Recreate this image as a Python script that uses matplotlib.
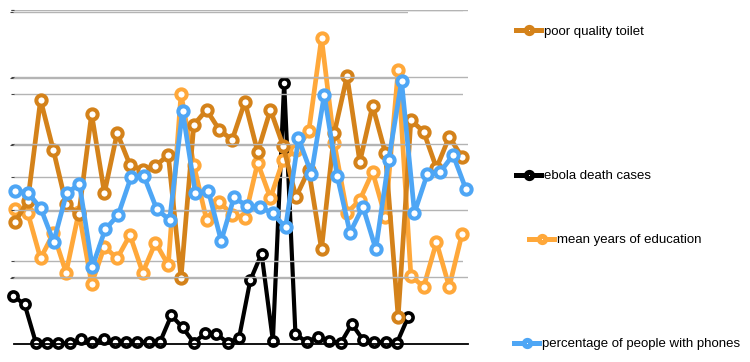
# Indicadores por região x mortes por ebola (4 eixos sobrepostos, estilo Excel)

import matplotlib.pyplot as plt
from matplotlib.lines import Line2D

plt.rcParams['font.family'] = ['Liberation Sans', 'DejaVu Sans']

# Dados (36 regiões)
toilet = [36.5, 42.8, 73.1, 58.1, 41.9, 38.9, 68.9, 45.2, 63.2, 53.6, 52.1, 53.3,
          56.6, 19.8, 65.6, 70.1, 64.1, 61.1, 72.5, 57.5, 70.1, 59.3, 44.0, 52.1,
          28.4, 63.2, 80.2, 54.5, 71.3, 57.2, 8.1, 67.1, 63.5, 52.7, 62.0, 56.0]
ebola = [72, 60, 2, 2, 1, 1, 7, 3, 7, 3, 3, 3,
         3, 3, 43, 25, 2, 16, 15, 2, 9, 96, 136, 5,
         393, 15, 3, 11, 5, 1, 30, 6, 3, 3, 2, 41]
education = [3.23, 3.14, 2.05, 2.65, 1.71, 3.16, 1.44, 2.33, 2.05, 2.61, 1.71, 2.43,
             1.89, 5.99, 4.29, 2.97, 3.41, 3.09, 3.02, 4.34, 3.50, 4.41, 4.65, 5.09,
             7.33, 4.81, 3.14, 3.45, 4.12, 3.04, 6.56, 1.63, 1.37, 2.44, 1.37, 2.63]
phones = [45.9, 45.3, 40.6, 30.6, 45.1, 47.9, 23.1, 34.3, 38.6, 49.9, 50.3, 40.4,
          37.1, 69.9, 45.1, 45.9, 30.9, 43.9, 41.3, 41.1, 39.1, 34.9, 61.6, 51.0,
          74.6, 50.4, 33.3, 41.1, 28.4, 55.1, 78.7, 39.3, 50.9, 51.5, 56.6, 46.3]

C_TOILET = '#d4821a'
C_EBOLA = '#000000'
C_EDU = '#ffa83a'
C_PHONE = '#4ea6f5'
GRID = '#b4b4b4'

W, H = 750, 362
fig = plt.figure(figsize=(W / 100, H / 100), dpi=100)


def make_ax(x0, x1, y0, y1, p0, p1, ymax, ticks, z):
    # caixa em pixels (y a partir do topo); p0/p1 = posição do 1º e último ponto
    ax = fig.add_axes([x0 / W, 1 - y1 / H, (x1 - x0) / W, (y1 - y0) / H], zorder=z)
    ax.patch.set_alpha(0)
    for s in ax.spines.values():
        s.set_visible(False)
    n = len(phones) - 1
    step = (p1 - p0) / n
    ax.set_xlim((x0 - p0) / step, n + (x1 - p1) / step)
    ax.set_ylim(0, ymax)
    ax.set_xticks([])
    ax.set_yticks(ticks)
    ax.set_yticklabels([])
    ax.tick_params(axis='y', length=2.5, width=0.8, color='#444444')
    if ticks:
        ax.grid(axis='y', color=GRID, lw=1.0)
    ax.set_axisbelow(True)
    return ax


x = list(range(len(phones)))
style = dict(lw=3.4, marker='o', ms=7.4, mew=2.9, mfc='white', clip_on=False)

# eixo das mortes por ebola (mais curto)
ax_eb = make_ax(13, 408, 12, 344, 13.3, 408.3, 500, [100, 200, 300, 400, 500], 1)
ax_eb.plot(x, ebola, color=C_EBOLA, lw=3.0, marker='o', ms=6.6, mew=2.6,
           mfc='white', clip_on=False)

# anos de estudo
ax_ed = make_ax(14, 463, 10, 344, 15, 462, 8, [2, 4, 6, 8], 2)
ax_ed.plot(x, education, color=C_EDU, **style)

# banheiro de má qualidade
ax_to = make_ax(14, 468, 10, 344, 15, 462, 100, [], 3)
ax_to.plot(x, toilet, color=C_TOILET, **style)

# telefones
ax_ph = make_ax(14, 468, 10, 344, 15, 466, 100, [20, 40, 60, 80, 100], 4)
ax_ph.plot(x, phones, color=C_PHONE, **style)
ax_ph.spines['bottom'].set_visible(True)
ax_ph.spines['bottom'].set_color('black')
ax_ph.spines['bottom'].set_linewidth(1.3)

# Legenda (cada item numa posição)
entries = [('poor quality toilet', C_TOILET, 516, 32),
           ('ebola death cases', C_EBOLA, 516, 176),
           ('mean years of education', C_EDU, 529, 240),
           ('percentage of people with phones', C_PHONE, 514, 344)]
for label, c, lx, ly in entries:
    h = Line2D([], [], color=c, lw=3.6, marker='o', ms=4.5, mew=3.6, mfc='white', mec=c)
    fig.legend(handles=[h], labels=[label], loc='center left',
               bbox_to_anchor=(lx / W, 1 - ly / H), frameon=False,
               fontsize=9.5, handlelength=1.9, handletextpad=0.25,
               borderpad=0, borderaxespad=0)

fig.savefig('out.png', dpi=100)
